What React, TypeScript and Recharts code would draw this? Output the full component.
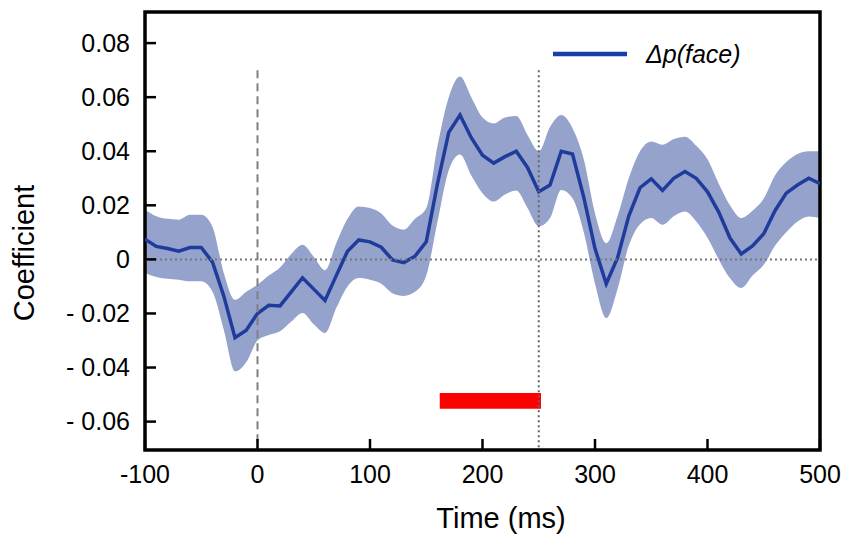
import React from "react"
import {
  Area,
  ComposedChart,
  Customized,
  Line,
  ReferenceArea,
  ReferenceLine,
  XAxis,
  YAxis,
} from "recharts"

// time points (ms)
const times = [
  -100, -90, -80, -70, -60, -50, -40, -30, -20, -10, 0, 10, 20, 30, 40, 50, 60, 70, 80, 90, 100, 110, 120, 130, 140,
  150, 160, 170, 180, 190, 200, 210, 220, 230, 240, 250, 260, 270, 280, 290, 300, 310, 320, 330, 340, 350, 360, 370,
  380, 390, 400, 410, 420, 430, 440, 450, 460, 470, 480, 490, 500,
]

// mean coefficient for Δp(face)
const meanValues = [
  0.0075, 0.0048, 0.004, 0.003, 0.0044, 0.0044, -0.001, -0.0135, -0.029, -0.0262, -0.02, -0.017, -0.0172, -0.012,
  -0.0068, -0.011, -0.0152, -0.006, 0.003, 0.0072, 0.0065, 0.0045, -0.0002, -0.0012, 0.0012, 0.0065, 0.028, 0.047,
  0.0534, 0.045, 0.0385, 0.0356, 0.038, 0.04, 0.034, 0.025, 0.0275, 0.04, 0.039, 0.023, 0.004, -0.009, 0.0005, 0.016,
  0.0265, 0.0298, 0.0255, 0.03, 0.0325, 0.03, 0.025, 0.0175, 0.0079, 0.002, 0.005, 0.0095, 0.018, 0.0245, 0.0275,
  0.03, 0.028,
]

// upper edge of the shaded band
const upperValues = [
  0.0184, 0.016, 0.015, 0.0147, 0.0165, 0.0165, 0.012, -0.005, -0.015, -0.012, -0.0094, -0.006, -0.003, 0.002, 0.0054,
  0.001, -0.004, 0.006, 0.015, 0.0196, 0.019, 0.017, 0.0125, 0.011, 0.015, 0.019, 0.042, 0.06, 0.0676, 0.06, 0.0525,
  0.0503, 0.0525, 0.053, 0.046, 0.04, 0.049, 0.0534, 0.0485, 0.037, 0.017, 0.006, 0.016, 0.03, 0.04, 0.0436, 0.0424,
  0.0445, 0.0454, 0.042, 0.037, 0.028, 0.02, 0.0153, 0.018, 0.0225, 0.031, 0.036, 0.039, 0.04, 0.04,
]

// lower edge of the shaded band
const lowerValues = [
  -0.005, -0.0065, -0.0072, -0.0075, -0.0081, -0.0081, -0.012, -0.026, -0.0414, -0.038, -0.03, -0.028, -0.0266,
  -0.023, -0.0198, -0.024, -0.0272, -0.018, -0.01, -0.0069, -0.0075, -0.009, -0.0125, -0.0135, -0.012, -0.006, 0.014,
  0.033, 0.0388, 0.031, 0.0245, 0.0214, 0.024, 0.0255, 0.019, 0.0122, 0.0153, 0.0257, 0.0226, 0.01, -0.009, -0.0217,
  -0.011, 0.005, 0.013, 0.0153, 0.0128, 0.016, 0.0177, 0.014, 0.008, 0, -0.007, -0.0106, -0.006, -0.002, 0.005, 0.01,
  0.014, 0.0159, 0.0153,
]

const xTicks = [-100, 0, 100, 200, 300, 400, 500]
const yTicks = [-0.06, -0.04, -0.02, 0, 0.02, 0.04, 0.06, 0.08]

// significant window (red bar)
const sigStart = 162
const sigEnd = 252

const data = times.map((t, i) => ({
  time: t,
  mean: meanValues[i],
  band: [lowerValues[i], upperValues[i]],
}))

const X_MIN = -100
const X_MAX = 500
const Y_MIN = -0.0705
const Y_MAX = 0.0915

const font = "'Liberation Sans', Arial, sans-serif"
const lineColor = "#1f3c9c"
const bandColor = "#95a3cc"

function formatY(v: number) {
  if (v === 0) return "0"
  if (v < 0) return `- ${Math.abs(v).toFixed(2)}`
  return v.toFixed(2)
}

function LegendBox() {
  return (
    <g>
      <line x1={553} y1={54} x2={627} y2={54} stroke="#1a3fa8" strokeWidth={4.5} />
      <text x={646} y={63} fontSize={25} fontStyle="italic" fontFamily={font} fill="#000">
        Δp(face)
      </text>
    </g>
  )
}

export default function App() {
  return (
    <div style={{ position: "absolute", left: 0, top: 0, background: "#fff" }}>
      <ComposedChart width={851} height={540} data={data} margin={{ top: 12, right: 31, bottom: 0, left: 0 }}>
        <XAxis
          dataKey="time"
          type="number"
          domain={[X_MIN, X_MAX]}
          ticks={xTicks}
          allowDataOverflow
          height={90}
          axisLine={false}
          tickSize={-11}
          tickMargin={26}
          tickLine={{ stroke: "#000", strokeWidth: 2.5 }}
          tick={{ fill: "#000", fontSize: 25, fontFamily: font }}
          label={{
            content: () => (
              <text x={501} y={528} textAnchor="middle" fontSize={29} fontFamily={font} fill="#000">
                Time (ms)
              </text>
            ),
          }}
        />
        <YAxis
          type="number"
          domain={[Y_MIN, Y_MAX]}
          ticks={yTicks}
          allowDataOverflow
          width={145}
          axisLine={false}
          tickSize={-11}
          tickMargin={26}
          tickFormatter={formatY}
          tickLine={{ stroke: "#000", strokeWidth: 2.5 }}
          tick={{ fill: "#000", fontSize: 25, fontFamily: font }}
          label={{
            content: () => (
              <text
                x={24}
                y={253}
                transform="rotate(-90, 24, 253)"
                textAnchor="middle"
                dominantBaseline="central"
                fontSize={29}
                fontFamily={font}
                fill="#000"
              >
                Coefficient
              </text>
            ),
          }}
        />
        <Area
          dataKey="band"
          type="monotone"
          stroke="none"
          fill={bandColor}
          fillOpacity={1}
          isAnimationActive={false}
        />
        <Line
          dataKey="mean"
          type="linear"
          stroke={lineColor}
          strokeWidth={3.5}
          dot={false}
          isAnimationActive={false}
        />
        <ReferenceLine y={0} stroke="#777" strokeWidth={2} strokeDasharray="2 3" />
        <ReferenceLine
          segment={[
            { x: 0, y: 0.07 },
            { x: 0, y: Y_MIN },
          ]}
          stroke="#808080"
          strokeWidth={2}
          strokeDasharray="8 5"
        />
        <ReferenceLine
          segment={[
            { x: 250, y: 0.07 },
            { x: 250, y: Y_MIN },
          ]}
          stroke="#666"
          strokeWidth={2}
          strokeDasharray="2 3"
        />
        <ReferenceArea x1={sigStart} x2={sigEnd} y1={-0.0552} y2={-0.0494} fill="#ff0000" fillOpacity={1} stroke="none" />
        <ReferenceArea
          x1={X_MIN}
          x2={X_MAX}
          y1={Y_MIN}
          y2={Y_MAX}
          fill="none"
          stroke="#000"
          strokeWidth={3.5}
          ifOverflow="visible"
        />
        <Customized component={LegendBox} />
      </ComposedChart>
    </div>
  )
}
